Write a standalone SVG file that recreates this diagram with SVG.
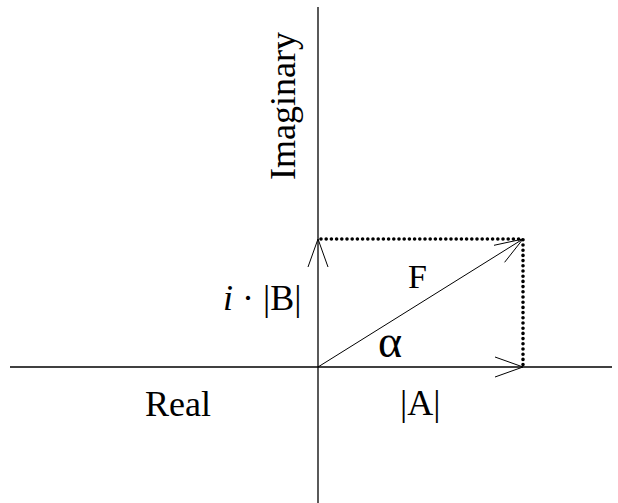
<svg xmlns="http://www.w3.org/2000/svg" width="618" height="503" viewBox="0 0 618 503">
<style>
text{font-family:"Liberation Serif","Times New Roman",serif;fill:#000}
.ax{stroke:#000;stroke-width:1.3;fill:none}
.ln{stroke:#000;stroke-width:1;fill:none}
.dot{stroke:#000;stroke-width:3.6;stroke-linecap:round;stroke-dasharray:0 5.2;fill:none}
</style>
<rect width="618" height="503" fill="#fff"/>
<g id="connectors">
<line class="ax" x1="10" y1="367" x2="612" y2="367"/>
<line class="ax" x1="318" y1="7" x2="318" y2="503"/>
<path class="dot" d="M321,239 H523 V366"/>
<line class="ln" x1="318" y1="367" x2="523" y2="239"/>
<polyline class="ln" points="494,245.3 523,239 504.6,262.3"/>
<polyline class="ln" points="495,357 523,367 495,377"/>
<polyline class="ln" points="308,267 318,239 328,267"/>
</g>
<g id="label-imaginary"><text transform="translate(295,106) rotate(-90)" font-size="36" text-anchor="middle">Imaginary</text></g>
<g id="label-real"><text x="145" y="416" font-size="36">Real</text></g>
<g id="label-a"><text x="400" y="415" font-size="36">|A|</text></g>
<g id="label-b"><text x="223" y="310" font-size="36"><tspan font-style="italic">i</tspan> · |B|</text></g>
<g id="label-f"><text x="408" y="288" font-size="34">F</text></g>
<g id="label-alpha"><text x="378" y="357" font-size="46">α</text></g>
</svg>
